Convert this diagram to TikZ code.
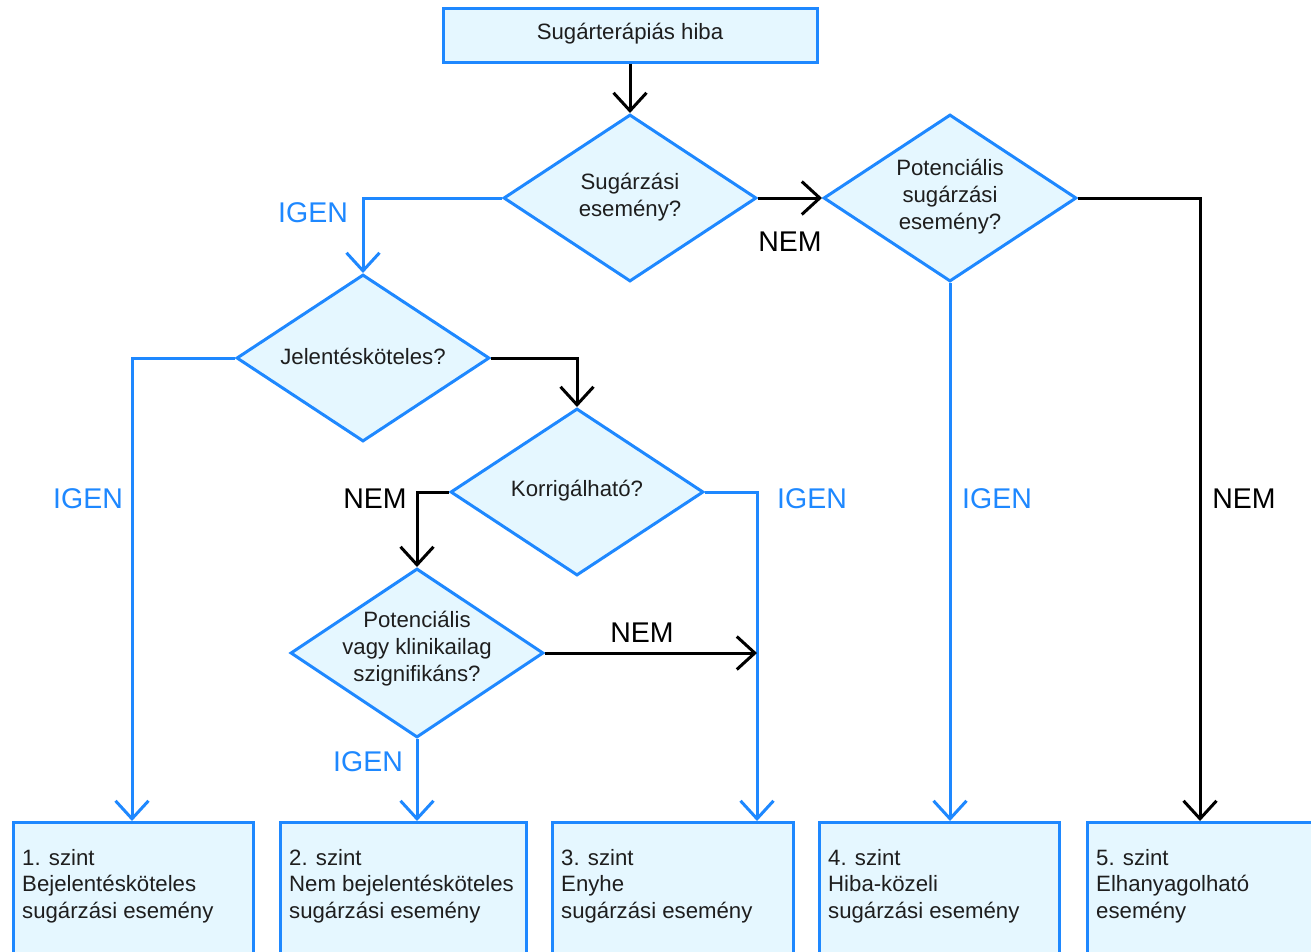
\documentclass[tikz,border=0pt]{standalone}
\usepackage{fontspec}
\setmainfont{Liberation Sans}
\usetikzlibrary{shapes.geometric,arrows.meta}
\definecolor{fblue}{RGB}{30,136,255}
\definecolor{lightfill}{RGB}{229,247,255}
\definecolor{txtcol}{RGB}{30,30,30}
\begin{document}
\begin{tikzpicture}[x=1pt,y=-1pt,
  dia/.style={diamond, draw=fblue, fill=lightfill, line width=3pt, inner sep=0pt, minimum width=253pt, minimum height=167pt},
  boxnode/.style={rectangle, draw=fblue, fill=lightfill, line width=3pt, inner sep=0pt},
  txt/.style={text=txtcol, font=\fontsize{22.2}{27}\selectfont, align=center, inner sep=0pt},
  lefttxt/.style={text=txtcol, font=\fontsize{22.2}{26.7}\selectfont, align=left, inner sep=0pt, anchor=west},
  lbl/.style={font=\fontsize{28.5}{32}\selectfont, inner sep=0pt},
  blk/.style={draw=black, line width=3pt, -{Straight Barb[length=18pt,width=33pt]}},
  blu/.style={draw=fblue, line width=3pt, -{Straight Barb[length=18pt,width=33pt]}}
]
\useasboundingbox (0,0) rectangle (1311,951);
\clip (0,0) rectangle (1311,951);
\fill[white] (0,0) rectangle (1311,951);

% top box
\node[boxnode, minimum width=374pt, minimum height=54pt] (top) at (630,35) {};
\node[txt] (topt) at (630,34) {Sugárterápiás hiba};

% diamonds
\node[dia] (d1) at (630,198) {};
\node[txt] (d1t) at (630,197) {Sugárzási\\esemény?};
\node[dia] (d2) at (950,198) {};
\node[txt] (d2t) at (950,197) {Potenciális\\sugárzási\\esemény?};
\node[dia] (d3) at (363,358) {};
\node[txt] (d3t) at (363,356) {Jelentésköteles?};
\node[dia] (d4) at (577,492) {};
\node[txt] (d4t) at (577,491) {Korrigálható?};
\node[dia, minimum height=169pt] (d5) at (417,653) {};
\node[txt] (d5t) at (417,649) {Potenciális\\vagy klinikailag\\szignifikáns?};

% bottom boxes
\node[boxnode, anchor=north west, minimum width=240pt, minimum height=160pt] (b1) at (12,821) {};
\node[boxnode, anchor=north west, minimum width=246pt, minimum height=160pt] (b2) at (279,821) {};
\node[boxnode, anchor=north west, minimum width=241pt, minimum height=160pt] (b3) at (551,821) {};
\node[boxnode, anchor=north west, minimum width=240pt, minimum height=160pt] (b4) at (818,821) {};
\node[boxnode, anchor=north west, minimum width=250pt, minimum height=160pt] (b5) at (1086,821) {};

\node[lefttxt] (b1t) at (22,886) {1. szint\\Bejelentésköteles\\sugárzási esemény};
\node[lefttxt] (b2t) at (289,886) {2. szint\\Nem bejelentésköteles\\sugárzási esemény};
\node[lefttxt] (b3t) at (561,886) {3. szint\\Enyhe\\sugárzási esemény};
\node[lefttxt] (b4t) at (828,886) {4. szint\\Hiba-közeli\\sugárzási esemény};
\node[lefttxt] (b5t) at (1096,886) {5. szint\\Elhanyagolható\\esemény};

% entry coordinates
\coordinate (b3in) at (757,821);
\coordinate (b5in) at (1200,821);
\coordinate (b2in) at (417,821);
\coordinate (b4in) at (950,821);
\coordinate (b1in) at (132,821);
\coordinate (j3) at (757,653);

% connectors
\draw[blk] (top.south) -- (d1.north);
\draw[blk] (d1.east) -- (d2.west);
\draw[blk] (d2.east) -| (b5in);
\draw[blu] (d2.south) -- (b4in);
\draw[blu] (d1.west) -| (d3.north);
\draw[blu] (d3.west) -| (b1in);
\draw[blk] (d3.east) -| (d4.north);
\draw[blk] (d4.west) -| (d5.north);
\draw[blu] (d4.east) -| (b3in);
\draw[blk] (d5.east) -- (j3);
\draw[blu] (d5.south) -- (b2in);

% labels
\node[lbl, text=fblue] (l1) at (313,213) {IGEN};
\node[lbl] (l2) at (790,242) {NEM};
\node[lbl, text=fblue] (l3) at (88,499) {IGEN};
\node[lbl] (l4) at (375,499) {NEM};
\node[lbl, text=fblue] (l5) at (812,499) {IGEN};
\node[lbl, text=fblue] (l6) at (997,499) {IGEN};
\node[lbl] (l7) at (1244,499) {NEM};
\node[lbl] (l8) at (642,633) {NEM};
\node[lbl, text=fblue] (l9) at (368,762) {IGEN};
\end{tikzpicture}
\end{document}
